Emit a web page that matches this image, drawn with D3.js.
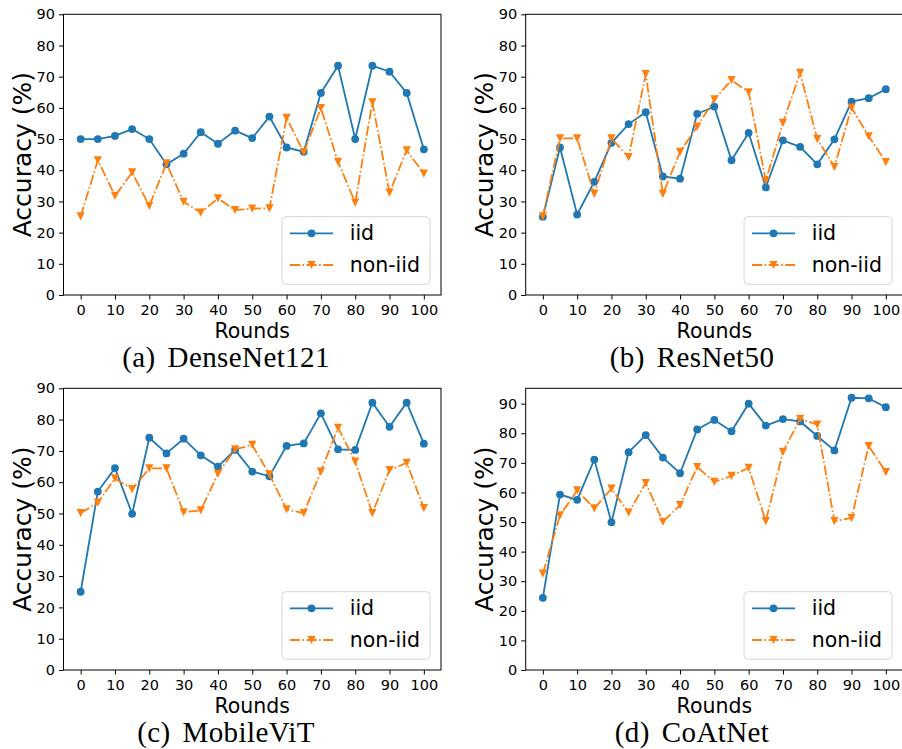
<!DOCTYPE html>
<html>
<head>
<meta charset="utf-8">
<script src="https://cdn.jsdelivr.net/npm/d3@7"></script>
<style>
  html, body { margin: 0; padding: 0; background: #fff; }
  svg text { font-family: "DejaVu Sans", sans-serif; fill: #000; }
  .caption { font-family: "Liberation Serif", "DejaVu Serif", serif; }
</style>
</head>
<body>
<div id="chart"></div>
<script>
const rounds = [0, 5, 10, 15, 20, 25, 30, 35, 40, 45, 50, 55, 60, 65, 70, 75, 80, 85, 90, 95, 100];

const denseIid    = [50.0, 50.0, 51.0, 53.2, 50.0, 41.9, 45.3, 52.2, 48.5, 52.7, 50.3, 57.2, 47.3, 45.9, 64.8, 73.5, 50.0, 73.5, 71.6, 64.8, 46.7];
const denseNonIid = [25.2, 43.2, 31.8, 39.3, 28.6, 42.2, 29.9, 26.4, 31.0, 27.2, 27.7, 27.8, 56.8, 45.7, 59.9, 42.7, 29.6, 61.8, 32.8, 46.4, 38.9];

const resIid      = [25.1, 47.3, 25.8, 36.3, 48.8, 54.8, 58.6, 38.0, 37.3, 58.1, 60.4, 43.2, 52.0, 34.5, 49.6, 47.5, 41.9, 49.9, 62.0, 63.1, 66.0];
const resNonIid   = [25.2, 50.2, 50.2, 32.4, 50.2, 44.2, 70.8, 32.4, 45.9, 54.0, 62.7, 68.9, 65.0, 36.6, 55.2, 71.2, 50.0, 41.1, 60.1, 50.9, 42.6];

const mobileIid    = [25.0, 57.0, 64.5, 49.9, 74.2, 69.2, 73.9, 68.6, 65.0, 70.3, 63.4, 61.9, 71.6, 72.4, 82.0, 70.5, 70.3, 85.4, 77.7, 85.4, 72.3];
const mobileNonIid = [50.1, 53.5, 61.2, 57.8, 64.4, 64.4, 50.4, 51.0, 62.7, 70.5, 71.9, 62.5, 51.3, 50.1, 63.4, 77.4, 66.6, 50.1, 63.9, 66.2, 51.7];

const coatIid     = [24.4, 59.3, 57.5, 71.1, 49.9, 73.6, 79.4, 71.8, 66.5, 81.3, 84.5, 80.7, 90.0, 82.6, 84.8, 84.0, 79.1, 74.2, 92.0, 91.8, 88.8];
const coatNonIid  = [32.6, 52.3, 60.7, 54.6, 61.3, 53.2, 63.2, 50.1, 55.7, 68.6, 63.6, 65.6, 68.3, 50.3, 73.7, 84.9, 82.9, 50.3, 51.4, 75.7, 66.9];

const xTicks = [0, 10, 20, 30, 40, 50, 60, 70, 80, 90, 100];
const yTicks = [0, 10, 20, 30, 40, 50, 60, 70, 80, 90];
const seriesNames = ["iid", "non-iid"];

const W = 902, H = 749;
const blue = "#1f77b4", orange = "#ff7f0e";
const dashDot = "10,2.5,1.6,2.5";

const svg = d3.select("#chart").append("svg")
    .attr("width", W)
    .attr("height", H);

const panels = [
    { left: 63.5,  top: 14.3,  right: 441, bottom: 295, yMax: 90,   iid: denseIid,  non: denseNonIid,  tag: "(a)", name: "DenseNet121", capX: 226 },
    { left: 525.7, top: 14.3,  right: 903, bottom: 295, yMax: 90,   iid: resIid,    non: resNonIid,    tag: "(b)", name: "ResNet50",    capX: 692 },
    { left: 63.5,  top: 388.3, right: 441, bottom: 670, yMax: 90,   iid: mobileIid, non: mobileNonIid, tag: "(c)", name: "MobileViT",   capX: 226 },
    { left: 525.7, top: 388.3, right: 903, bottom: 670, yMax: 95.2, iid: coatIid,   non: coatNonIid,   tag: "(d)", name: "CoAtNet",     capX: 692 }
];

function triangle(s) {
    return `M${-s},${-s}L${s},${-s}L0,${s}Z`;
}

function drawMarkers(g, pts, kind, color) {
    if (kind === "circle") {
        g.selectAll(null).data(pts).join("circle")
            .attr("cx", d => d[0]).attr("cy", d => d[1])
            .attr("r", 3.9).attr("fill", color);
    } else {
        g.selectAll(null).data(pts).join("path")
            .attr("transform", d => `translate(${d[0]},${d[1]})`)
            .attr("d", triangle(4.1)).attr("fill", color);
    }
}

panels.forEach(p => {
    const g = svg.append("g");

    const x = d3.scaleLinear().domain([-5, 105]).range([p.left, p.right]);
    const y = d3.scaleLinear().domain([0, p.yMax]).range([p.bottom, p.top]);

    const line = d3.line().x((d, i) => x(rounds[i])).y(d => y(d));

    // iid
    g.append("path").datum(p.iid)
        .attr("d", line).attr("fill", "none")
        .attr("stroke", blue).attr("stroke-width", 1.8);
    drawMarkers(g, p.iid.map((v, i) => [x(rounds[i]), y(v)]), "circle", blue);

    // non-iid
    g.append("path").datum(p.non)
        .attr("d", line).attr("fill", "none")
        .attr("stroke", orange).attr("stroke-width", 1.8)
        .attr("stroke-dasharray", dashDot);
    drawMarkers(g, p.non.map((v, i) => [x(rounds[i]), y(v)]), "tri", orange);

    // spines
    g.append("rect")
        .attr("x", p.left).attr("y", p.top)
        .attr("width", p.right - p.left).attr("height", p.bottom - p.top)
        .attr("fill", "none").attr("stroke", "#000").attr("stroke-width", 1);

    // axes
    const xAxis = g.append("g")
        .attr("transform", `translate(0,${p.bottom})`)
        .call(d3.axisBottom(x).tickValues(xTicks).tickSize(4.5).tickPadding(5).tickSizeOuter(0));
    const yAxis = g.append("g")
        .attr("transform", `translate(${p.left},0)`)
        .call(d3.axisLeft(y).tickValues(yTicks).tickSize(4.5).tickPadding(4).tickSizeOuter(0));
    [xAxis, yAxis].forEach(a => {
        a.select(".domain").remove();
        a.selectAll(".tick line").attr("stroke", "#000").attr("stroke-width", 1);
        a.selectAll(".tick text")
            .style("font-family", '"DejaVu Sans", sans-serif')
            .style("font-size", "14.5px")
            .attr("fill", "#000");
    });

    // axis labels
    g.append("text")
        .attr("x", (p.left + p.right) / 2).attr("y", p.bottom + 43.3)
        .attr("text-anchor", "middle")
        .style("font-size", "20.5px")
        .text("Rounds");
    g.append("text")
        .attr("transform", `translate(${p.left - 32.5},${(p.top + p.bottom) / 2}) rotate(-90)`)
        .attr("text-anchor", "middle")
        .style("font-size", "25px")
        .text("Accuracy (%)");

    // legend
    const lw = 148, lh = 67.6;
    const lx = p.right - 11 - lw, ly = p.bottom - 10.7 - lh;
    const lg = g.append("g").attr("transform", `translate(${lx},${ly})`);
    lg.append("rect")
        .attr("width", lw).attr("height", lh).attr("rx", 4)
        .attr("fill", "#fff").attr("fill-opacity", 0.8)
        .attr("stroke", "#d6d6d6").attr("stroke-width", 1);
    const rows = [16.6, 48.3];
    seriesNames.forEach((name, i) => {
        const ry = rows[i];
        const color = i === 0 ? blue : orange;
        lg.append("line")
            .attr("x1", 8).attr("x2", 51).attr("y1", ry).attr("y2", ry)
            .attr("stroke", color).attr("stroke-width", 1.8)
            .attr("stroke-dasharray", i === 0 ? null : dashDot);
        drawMarkers(lg, [[29.5, ry]], i === 0 ? "circle" : "tri", color);
        lg.append("text")
            .attr("x", 67.7).attr("y", ry)
            .attr("dominant-baseline", "central")
            .style("font-size", "20.5px")
            .text(name);
    });

    // caption
    const cap = g.append("text")
        .attr("class", "caption")
        .attr("x", p.capX).attr("y", p.bottom + 72)
        .attr("text-anchor", "middle")
        .style("font-size", "29px")
        .style("letter-spacing", "0.4px");
    cap.append("tspan").text(p.tag);
    cap.append("tspan").attr("dx", 12).text(p.name);
});
</script>
</body>
</html>
